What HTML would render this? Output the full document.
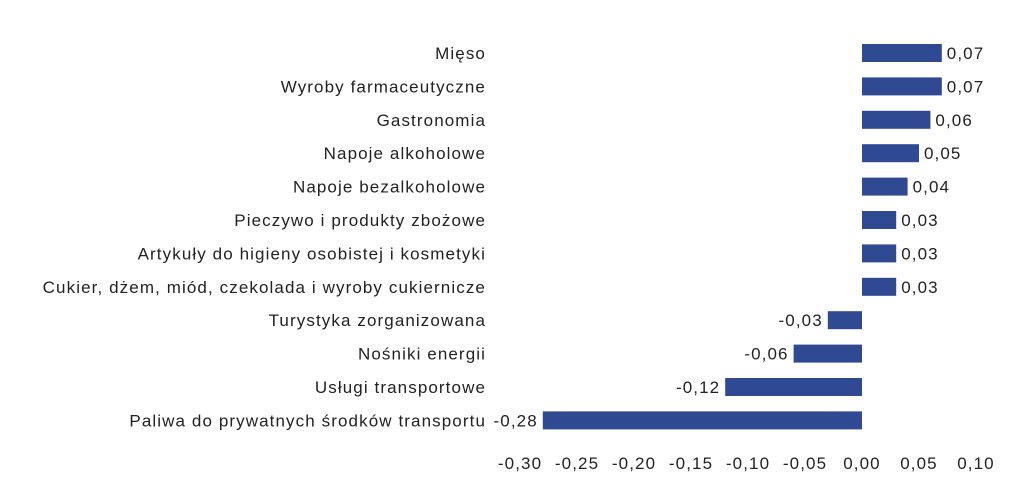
<!DOCTYPE html>
<html><head><meta charset="utf-8"><style>
body{margin:0;background:#fff;}
svg text{font-family:"Liberation Sans",sans-serif;font-size:17px;letter-spacing:1.1px;fill:#222;}
</style></head><body>
<svg id="chart" width="1026" height="490" xmlns="http://www.w3.org/2000/svg"></svg>
<script>
const categories=["Mięso","Wyroby farmaceutyczne","Gastronomia","Napoje alkoholowe","Napoje bezalkoholowe","Pieczywo i produkty zbożowe","Artykuły do higieny osobistej i kosmetyki","Cukier, dżem, miód, czekolada i wyroby cukiernicze","Turystyka zorganizowana","Nośniki energii","Usługi transportowe","Paliwa do prywatnych środków transportu"];
const values=[0.07,0.07,0.06,0.05,0.04,0.03,0.03,0.03,-0.03,-0.06,-0.12,-0.28];
const ticks=[-0.30,-0.25,-0.20,-0.15,-0.10,-0.05,0,0.05,0.10];
const svg=document.getElementById('chart');
const NS='http://www.w3.org/2000/svg';
const x=v=>862+v*1140;
const y=i=>53+i*33.4;
const fmt=v=>v.toFixed(2).replace('.',',');
function mk(t,a){const e=document.createElementNS(NS,t);for(const k in a)e.setAttribute(k,a[k]);svg.appendChild(e);return e;}
categories.forEach((c,i)=>{
  const v=values[i];
  const r=mk('rect',{x:Math.min(x(0),x(v)),y:y(i)-9,width:Math.abs(x(v)-x(0)),height:18,fill:'#2f4a93'});
  
  
  const t=mk('text',{x:486,y:y(i)+6,'text-anchor':'end'});t.textContent=c;
  
  
  const vl=mk('text',{x:v>=0?x(v)+5:x(v)-5,y:y(i)+6,'text-anchor':v>=0?'start':'end'});vl.textContent=fmt(v);
  
  
});
ticks.forEach(tv=>{
  const t=mk('text',{x:x(tv),y:469,'text-anchor':'middle'});t.textContent=fmt(tv);
  
  
});
</script>
</body></html>
